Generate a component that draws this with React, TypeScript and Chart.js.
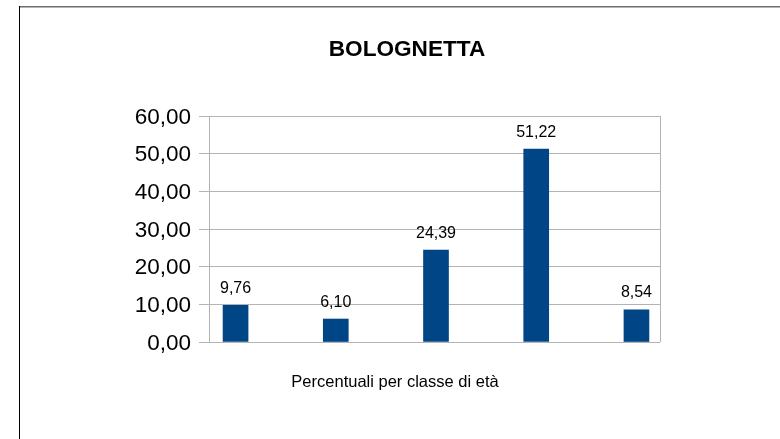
import React, { useEffect, useRef } from "react";
import { Chart, registerables } from "chart.js";

Chart.register(...registerables);

// ---- data ----
const chartTitle = "BOLOGNETTA";
const axisTitle = "Percentuali per classe di età";
const categories = ["Classe 1", "Classe 2", "Classe 3", "Classe 4", "Classe 5"];
const values = [9.76, 6.1, 24.39, 51.22, 8.54];
const yTicks = [0, 10, 20, 30, 40, 50, 60];

const FONT = '"Liberation Sans", Arial, Helvetica, sans-serif';
const fmt = (v: number) => Number(v).toFixed(2).replace(".", ",");

const decor = {
  id: "decor",
  beforeDraw(chart: any) {
    const ctx = chart.ctx;
    ctx.save();
    ctx.fillStyle = "#ffffff";
    ctx.fillRect(0, 0, chart.width, chart.height);
    // outer frame (top + left)
    ctx.fillStyle = "#6e6e6e";
    ctx.fillRect(19, 6, chart.width - 19, 1);
    ctx.fillStyle = "#b4b4b4";
    ctx.fillRect(19, 7, chart.width - 19, 1);
    ctx.fillStyle = "#000000";
    ctx.fillRect(19, 6, 1, chart.height - 6);
    ctx.restore();
  },
  afterDraw(chart: any) {
    const ctx = chart.ctx;
    const a = chart.chartArea;
    ctx.save();
    // right border of plot area
    ctx.strokeStyle = "#b3b3b3";
    ctx.lineWidth = 1;
    ctx.beginPath();
    const rx = Math.round(a.right) + 0.5;
    ctx.moveTo(rx, a.top);
    ctx.lineTo(rx, a.bottom);
    ctx.stroke();
    // titles
    ctx.fillStyle = "#000000";
    ctx.textAlign = "center";
    ctx.textBaseline = "alphabetic";
    ctx.font = `bold 22.6px ${FONT}`;
    ctx.fillText(chartTitle, 407, 56);
    ctx.font = `16.5px ${FONT}`;
    ctx.fillText(axisTitle, 395, 387);
    // value labels
    ctx.font = `16px ${FONT}`;
    const meta = chart.getDatasetMeta(0);
    meta.data.forEach((bar: any, i: number) => {
      ctx.fillText(fmt(values[i]), bar.x, bar.y - 12.5);
    });
    ctx.restore();
  },
};

export default function App() {
  const ref = useRef<HTMLCanvasElement>(null);

  useEffect(() => {
    if (!ref.current) return;
    const chart = new Chart(ref.current, {
      type: "bar",
      data: {
        labels: categories,
        datasets: [
          {
            label: chartTitle,
            data: values.map((v, i) => ({ x: i, y: v })),
            backgroundColor: "#004586",
            borderWidth: 0,
            barThickness: 25,
          },
        ],
      },
      options: {
        animation: false,
        responsive: false,
        devicePixelRatio: 1,
        layout: { padding: { left: 0, right: 120, top: 116, bottom: 97 } },
        plugins: {
          legend: { display: false },
          tooltip: { enabled: false },
          title: { display: false },
        },
        scales: {
          x: {
            type: "linear",
            display: false,
            offset: false,
            bounds: "data",
            min: -0.265,
            max: 4.235,
          },
          y: {
            min: 0,
            max: 60,
            afterBuildTicks: (scale: any) => {
              scale.ticks = yTicks.map((v) => ({ value: v }));
            },
            afterFit: (scale: any) => {
              scale.width = 209;
            },
            ticks: {
              font: { family: FONT, size: 22.5 },
              color: "#000000",
              padding: 8,
              labelOffset: 1.5,
              callback: (v: any) => fmt(v),
            },
            grid: { color: "#b3b3b3", tickLength: 10, lineWidth: 1 },
            border: { color: "#b3b3b3" },
          },
        },
      },
      plugins: [decor],
    } as any);
    return () => chart.destroy();
  }, []);

  return (
    <div style={{ position: "fixed", left: 0, top: 0, width: 780, height: 439, background: "#fff" }}>
      <canvas ref={ref} width={780} height={439} style={{ display: "block" }} />
    </div>
  );
}
